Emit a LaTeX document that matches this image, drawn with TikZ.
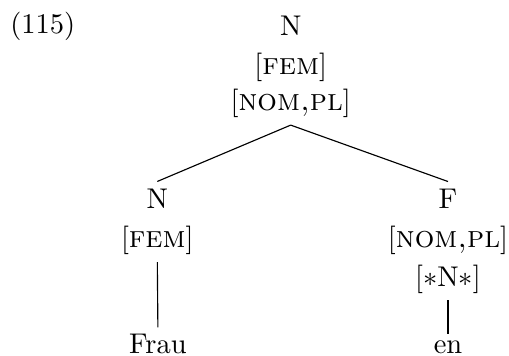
\documentclass[tikz,border=0pt]{standalone}
\newcommand{\featsc}[1]{{\fontsize{10.8}{13}\selectfont\textsc{#1}}}
\begin{document}
\begin{tikzpicture}[x=1pt,y=1pt,
  lab/.style={inner sep=0pt, outer ysep=2.5pt, anchor=base},
  branch/.style={line width=0.4pt}]
\useasboundingbox (0,0) rectangle (178.6,-124.9);
\node[inner sep=0pt, anchor=base west] (num) at (3.4,-11.7) {(115)};
% root
\node[lab] (r1) at (102.0,-12.3) {N};
\node[lab] (r2) at (102.0,-26.3) {[\featsc{fem}]};
\node[lab] (r3) at (102.0,-38.9) {[\featsc{nom,pl}]};
% left daughter
\node[lab] (l1) at (55.2,-73.0) {N};
\node[lab] (l2) at (55.2,-87.0) {[\featsc{fem}]};
\node[lab] (l3) at (55.4,-124.2) {Frau};
% right daughter
\node[lab] (q1) at (157.2,-73.0) {F};
\node[lab] (q2) at (157.2,-87.0) {[\featsc{nom,pl}]};
\node[lab] (q3) at (157.2,-100.4) {[$*$N$*$]};
\node[lab] (q4) at (157.2,-124.2) {en};
% branches
\draw[branch] (r3.south) -- (l1.north);
\draw[branch] (r3.south) -- (q1.north);
\draw[branch] (l2.south) -- (l3.north);
\draw[branch] (q3.south) -- (q4.north);
\end{tikzpicture}
\end{document}
